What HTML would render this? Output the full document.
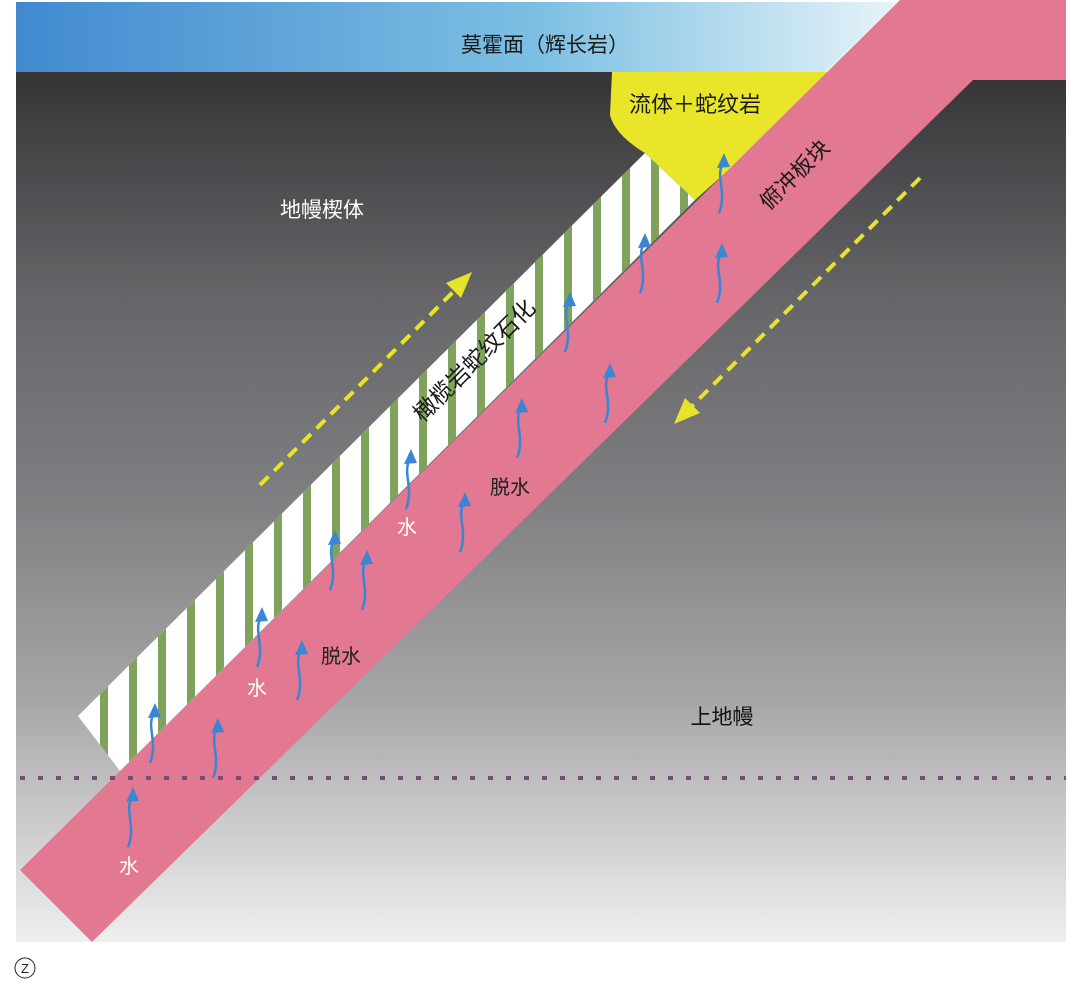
<!DOCTYPE html>
<html><head><meta charset="utf-8">
<style>
html,body{margin:0;padding:0;background:#fff;}
svg{display:block;}
text{font-family:"Liberation Sans","Noto Sans CJK SC",sans-serif;}
</style></head>
<body>
<svg id="svg" width="1069" height="995" viewBox="0 0 1069 995" xmlns="http://www.w3.org/2000/svg">
<defs>
<linearGradient id="bg" x1="0" y1="0" x2="0" y2="1">
<stop offset="0" stop-color="#353334"/><stop offset="0.12" stop-color="#4c4c4f"/><stop offset="0.26" stop-color="#666669"/><stop offset="0.49" stop-color="#7f7f82"/><stop offset="0.72" stop-color="#a6a6a8"/><stop offset="1" stop-color="#efefef"/>
</linearGradient>
<linearGradient id="moho" x1="0" y1="0" x2="1" y2="0">
<stop offset="0" stop-color="#418ad0"/><stop offset="0.6" stop-color="#7ec0e3"/><stop offset="1" stop-color="#e6f3f8"/>
</linearGradient>
<clipPath id="bandClip"><polygon points="78,716 645,153 695,200 120,771"/></clipPath>
</defs>
<rect x="16" y="72" width="1050" height="870" fill="url(#bg)"/>
<polygon points="16,2 897,2 826,72 16,72" fill="url(#moho)"/>
<g clip-path="url(#bandClip)">
<rect x="60" y="140" width="650" height="640" fill="#ffffff"/>
<g id="stripes"></g>
</g>
<path d="M612,72 L838,72 L695,200 L645,153 Q615,135 610,115 Z" fill="#e9e629"/>
<polygon points="20,870 900,0 1066,0 1066,80 973,80 92,942" fill="#e27891"/>
<line x1="20" y1="778" x2="1066" y2="778" stroke="#7a4a78" stroke-width="4" stroke-dasharray="5,13"/>
<g id="arrows"></g>
<g>
<line x1="260" y1="485" x2="455" y2="290" stroke="#e6e42a" stroke-width="4" stroke-dasharray="12,8"/>
<polygon points="472,272 446,283 461,298" fill="#e6e42a"/>
</g>
<g>
<line x1="920" y1="178" x2="690" y2="408" stroke="#e6e42a" stroke-width="4" stroke-dasharray="12,8"/>
<polygon points="674,424 685,398 700,413" fill="#e6e42a"/>
</g>
<text x="545" y="52" font-size="21" text-anchor="middle" fill="#1a1a1a">莫霍面（辉长岩）</text>
<text x="695" y="112" font-size="22" text-anchor="middle" fill="#1a1a1a">流体＋蛇纹岩</text>
<text x="322" y="217" font-size="21" text-anchor="middle" fill="#fff">地幔楔体</text>
<text x="800" y="180" font-size="22" text-anchor="middle" fill="#1a1a1a" transform="rotate(-45 800 180)">俯冲板块</text>
<text x="480" y="366" font-size="23" text-anchor="middle" fill="#1a1a1a" transform="rotate(-45 480 366)">橄榄岩蛇纹石化</text>
<text x="510" y="494" font-size="20" text-anchor="middle" fill="#222">脱水</text>
<text x="341" y="663" font-size="20" text-anchor="middle" fill="#222">脱水</text>
<text x="407" y="534" font-size="20" text-anchor="middle" fill="#fff">水</text>
<text x="257" y="695" font-size="20" text-anchor="middle" fill="#fff">水</text>
<text x="129" y="873" font-size="20" text-anchor="middle" fill="#fff">水</text>
<text x="722" y="724" font-size="21" text-anchor="middle" fill="#111">上地幔</text>
<circle cx="25" cy="968" r="10" fill="none" stroke="#222" stroke-width="1"/>
<text x="25" y="973" font-size="13" text-anchor="middle" fill="#222">Z</text>
</svg>
<script>
var arrowTipX = [133,155,218,262,302,335,367,411,465,522,570,610,645,722,724];
var arrowTipY = [787,703,718,607,640,530,550,449,492,398,292,363,233,243,153];
var stripeStartX = 100, stripeStep = 29, stripeCount = 22;
var NS = 'http://www.w3.org/2000/svg';
var sg = document.getElementById('stripes');
for (var i = 0; i < stripeCount; i++) {
  var r = document.createElementNS(NS, 'rect');
  r.setAttribute('x', stripeStartX + i * stripeStep);
  r.setAttribute('y', 140);
  r.setAttribute('width', 8);
  r.setAttribute('height', 640);
  r.setAttribute('fill', '#7fa35a');
  
  
  sg.appendChild(r);
}
var ag = document.getElementById('arrows');
for (var j = 0; j < arrowTipX.length; j++) {
  var x = arrowTipX[j], y = arrowTipY[j];
  var p = document.createElementNS(NS, 'path');
  p.setAttribute('d', 'M' + (x - 5) + ',' + (y + 60) + ' C' + (x + 3) + ',' + (y + 40) + ' ' + (x - 8) + ',' + (y + 25) + ' ' + (x - 2) + ',' + (y + 12));
  p.setAttribute('fill', 'none');
  p.setAttribute('stroke', '#3a86d4');
  p.setAttribute('stroke-width', '2.5');
  
  
  ag.appendChild(p);
  var h = document.createElementNS(NS, 'polygon');
  h.setAttribute('points', x + ',' + y + ' ' + (x - 7) + ',' + (y + 15) + ' ' + (x + 6) + ',' + (y + 14));
  h.setAttribute('fill', '#3a86d4');
  
  
  ag.appendChild(h);
}
</script>
</body></html>
